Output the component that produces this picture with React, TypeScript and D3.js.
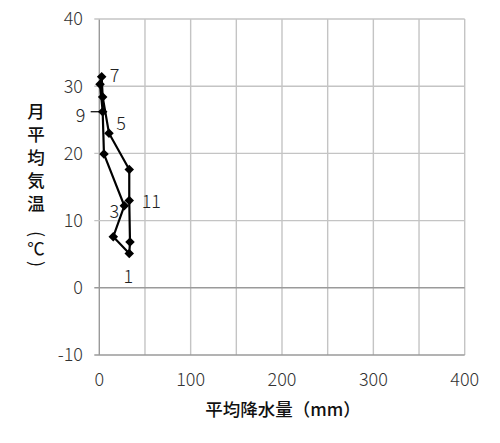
import React from "react";
import * as d3 from "d3";

const months = [1, 2, 3, 4, 5, 6, 7, 8, 9, 10, 11, 12];
const precipitation = [32.8, 33.6, 32.8, 32.8, 10.6, 3.7, 2.6, 0.8, 3.7, 5.1, 27.4, 15.3];
const temperature = [5.1, 6.8, 13.0, 17.6, 23.0, 28.4, 31.4, 30.3, 26.2, 19.9, 12.2, 7.6];
const xTicks = [0, 100, 200, 300, 400];
const yTicks = [-10, 0, 10, 20, 30, 40];
const xGrid = [0, 50, 100, 150, 200, 250, 300, 350, 400];
const labeledMonths = [1, 3, 5, 7, 9, 11];
const xTitle = "平均降水量（mm）";
const yTitleChars = ["月", "平", "均", "気", "温"];
const yUnit = "℃";

const W = 500;
const H = 443;
const FONT = "'Noto Sans CJK JP', 'Noto Sans', sans-serif";

const labelOffset: Record<number, [number, number]> = {
  1: [-1, 23],
  3: [-15, 11],
  5: [12, -10],
  7: [13, -1],
  9: [-22, 4],
  11: [27, -4],
};

export default function App() {
  const x = d3.scaleLinear().domain([0, 400]).range([99.3, 464.7]);
  const y = d3.scaleLinear().domain([-10, 40]).range([355, 19]);
  const pts = months.map((m, i) => ({ m, px: x(precipitation[i]), py: y(temperature[i]) }));
  const line = d3.line<{ px: number; py: number }>().x((d) => d.px).y((d) => d.py).curve(d3.curveLinearClosed);
  const grid = "#c4c4c4";
  const axis = "#9a9a9a";
  const tx = 36;
  return (
    <div style={{ position: "fixed", left: 0, top: 0 }}>
      <svg width={W} height={H} style={{ display: "block", background: "#fff" }} fontFamily={FONT}>
        <rect x={0} y={0} width={W} height={H} fill="#fff" />
        {xGrid.map((v) => (
          <line key={"vx" + v} x1={x(v)} x2={x(v)} y1={y(40)} y2={y(-10)} stroke={v === 0 ? axis : grid} strokeWidth={1.4} />
        ))}
        {yTicks.map((v) => (
          <line key={"hy" + v} x1={x(0) - 5} x2={x(400)} y1={y(v)} y2={y(v)} stroke={v === -10 || v === 0 ? axis : grid} strokeWidth={1.4} />
        ))}
        {yTicks.map((v) => (
          <text key={"yt" + v} x={83} y={y(v)} dy="0.36em" textAnchor="end" fontSize={18} fontWeight={300} fill="#333">
            {v}
          </text>
        ))}
        {xTicks.map((v) => (
          <text key={"xt" + v} x={x(v)} y={380} dy="0.36em" textAnchor="middle" fontSize={18} fontWeight={300} fill="#333">
            {v}
          </text>
        ))}
        <text x={283} y={410} dy="0.36em" textAnchor="middle" fontSize={17.5} fill="#111" fontWeight={500}>
          {xTitle}
        </text>
        {yTitleChars.map((c, i) => (
          <text key={"yc" + i} x={tx} y={112 + i * 23} dy="0.36em" textAnchor="middle" fontSize={17.5} fill="#111" fontWeight={500}>
            {c}
          </text>
        ))}
        <text x={tx} y={234} dy="0.36em" textAnchor="middle" fontSize={18} fill="#111" transform={`rotate(90, ${tx}, ${234})`}>
          (
        </text>
        <text x={tx} y={249} dy="0.36em" textAnchor="middle" fontSize={17.5} fill="#111">
          {yUnit}
        </text>
        <text x={tx} y={264} dy="0.36em" textAnchor="middle" fontSize={18} fill="#111" transform={`rotate(90, ${tx}, ${264})`}>
          )
        </text>
        <path d={line(pts) || ""} fill="none" stroke="#000" strokeWidth={2.2} />
        {pts.map((p) => (
          <path key={"mk" + p.m} d={d3.symbol(d3.symbolDiamond2, 58)() || ""} transform={`translate(${p.px},${p.py})`} fill="#000" />
        ))}
        {pts
          .filter((p) => labeledMonths.includes(p.m))
          .map((p) => {
            const [dx, dy] = labelOffset[p.m];
            return (
              <g key={"lb" + p.m}>
                {p.m === 9 && <line x1={p.px + dx + 10} x2={p.px} y1={p.py} y2={p.py} stroke="#000" strokeWidth={1.2} />}
                <text x={p.px + dx} y={p.py + dy} dy="0.36em" textAnchor="middle" fontSize={18} fontWeight={300} fill="#222">
                  {p.m}
                </text>
              </g>
            );
          })}
      </svg>
    </div>
  );
}
